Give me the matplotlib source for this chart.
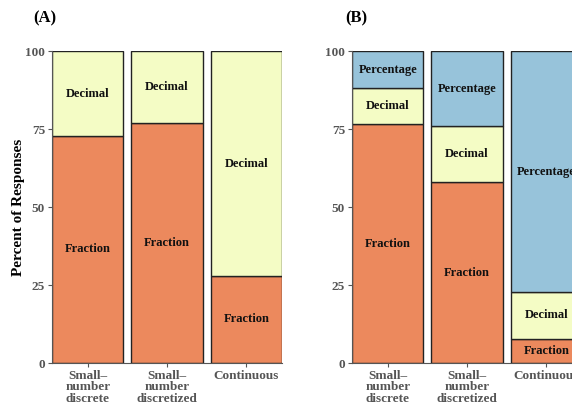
import matplotlib.pyplot as plt

plt.rcParams['font.family'] = ['Liberation Serif', 'DejaVu Serif']

conditions = ['Small\u2013\nnumber\ndiscrete', 'Small\u2013\nnumber\ndiscretized', 'Continuous']

# panel A: fraction / decimal
a_fraction = [72.8, 76.9, 27.9]
a_decimal = [27.2, 23.1, 72.1]

# panel B: fraction / decimal / percentage
b_fraction = [76.6, 58.0, 7.7]
b_decimal = [11.5, 18.0, 15.1]
b_percentage = [11.9, 24.0, 77.2]

colors = {'Fraction': '#EC895D', 'Decimal': '#F4FCC5', 'Percentage': '#97C3DA'}


def stacked(ax, series):
    x = range(len(conditions))
    bottom = [0] * len(conditions)
    for name, vals in series:
        ax.bar(x, vals, bottom=bottom, width=0.9, color=colors[name],
               edgecolor='#222222', linewidth=1.0)
        for i, v in enumerate(vals):
            ax.text(i, bottom[i] + v / 2, name, ha='center', va='center',
                    fontsize=9, fontweight='bold', color='#111111')
        bottom = [b + v for b, v in zip(bottom, vals)]
    ax.set_xlim(-0.45, 2.45)
    ax.set_ylim(0, 100)
    ax.set_yticks([0, 25, 50, 75, 100])
    ax.set_xticks(list(x))
    ax.set_xticklabels(conditions, fontsize=9.5, fontweight='bold',
                       color='#555555', linespacing=0.95)
    for t in ax.get_yticklabels():
        t.set_fontweight('bold')
        t.set_fontsize(9.5)
        t.set_color('#555555')
    ax.tick_params(axis='both', length=3, color='#555555', width=0.8, pad=2)
    for s in ['top', 'right']:
        ax.spines[s].set_visible(False)
    for s in ['left', 'bottom']:
        ax.spines[s].set_color('#555555')
        ax.spines[s].set_linewidth(0.8)


fig = plt.figure(figsize=(5.72, 4.05), dpi=100)
ax1 = fig.add_axes([0.0909, 0.1037, 0.402, 0.770])
ax2 = fig.add_axes([0.6154, 0.1037, 0.402, 0.770])

stacked(ax1, [('Fraction', a_fraction), ('Decimal', a_decimal)])
stacked(ax2, [('Fraction', b_fraction), ('Decimal', b_decimal),
              ('Percentage', b_percentage)])
ax1.set_ylabel('Percent of Responses', fontsize=11, fontweight='bold')
ax1.yaxis.set_label_coords(-0.117, 0.5)

fig.text(0.058, 0.955, '(A)', fontsize=12, fontweight='bold', ha='left', va='center')
fig.text(0.603, 0.955, '(B)', fontsize=12, fontweight='bold', ha='left', va='center')

fig.savefig('out.png', dpi=100)
